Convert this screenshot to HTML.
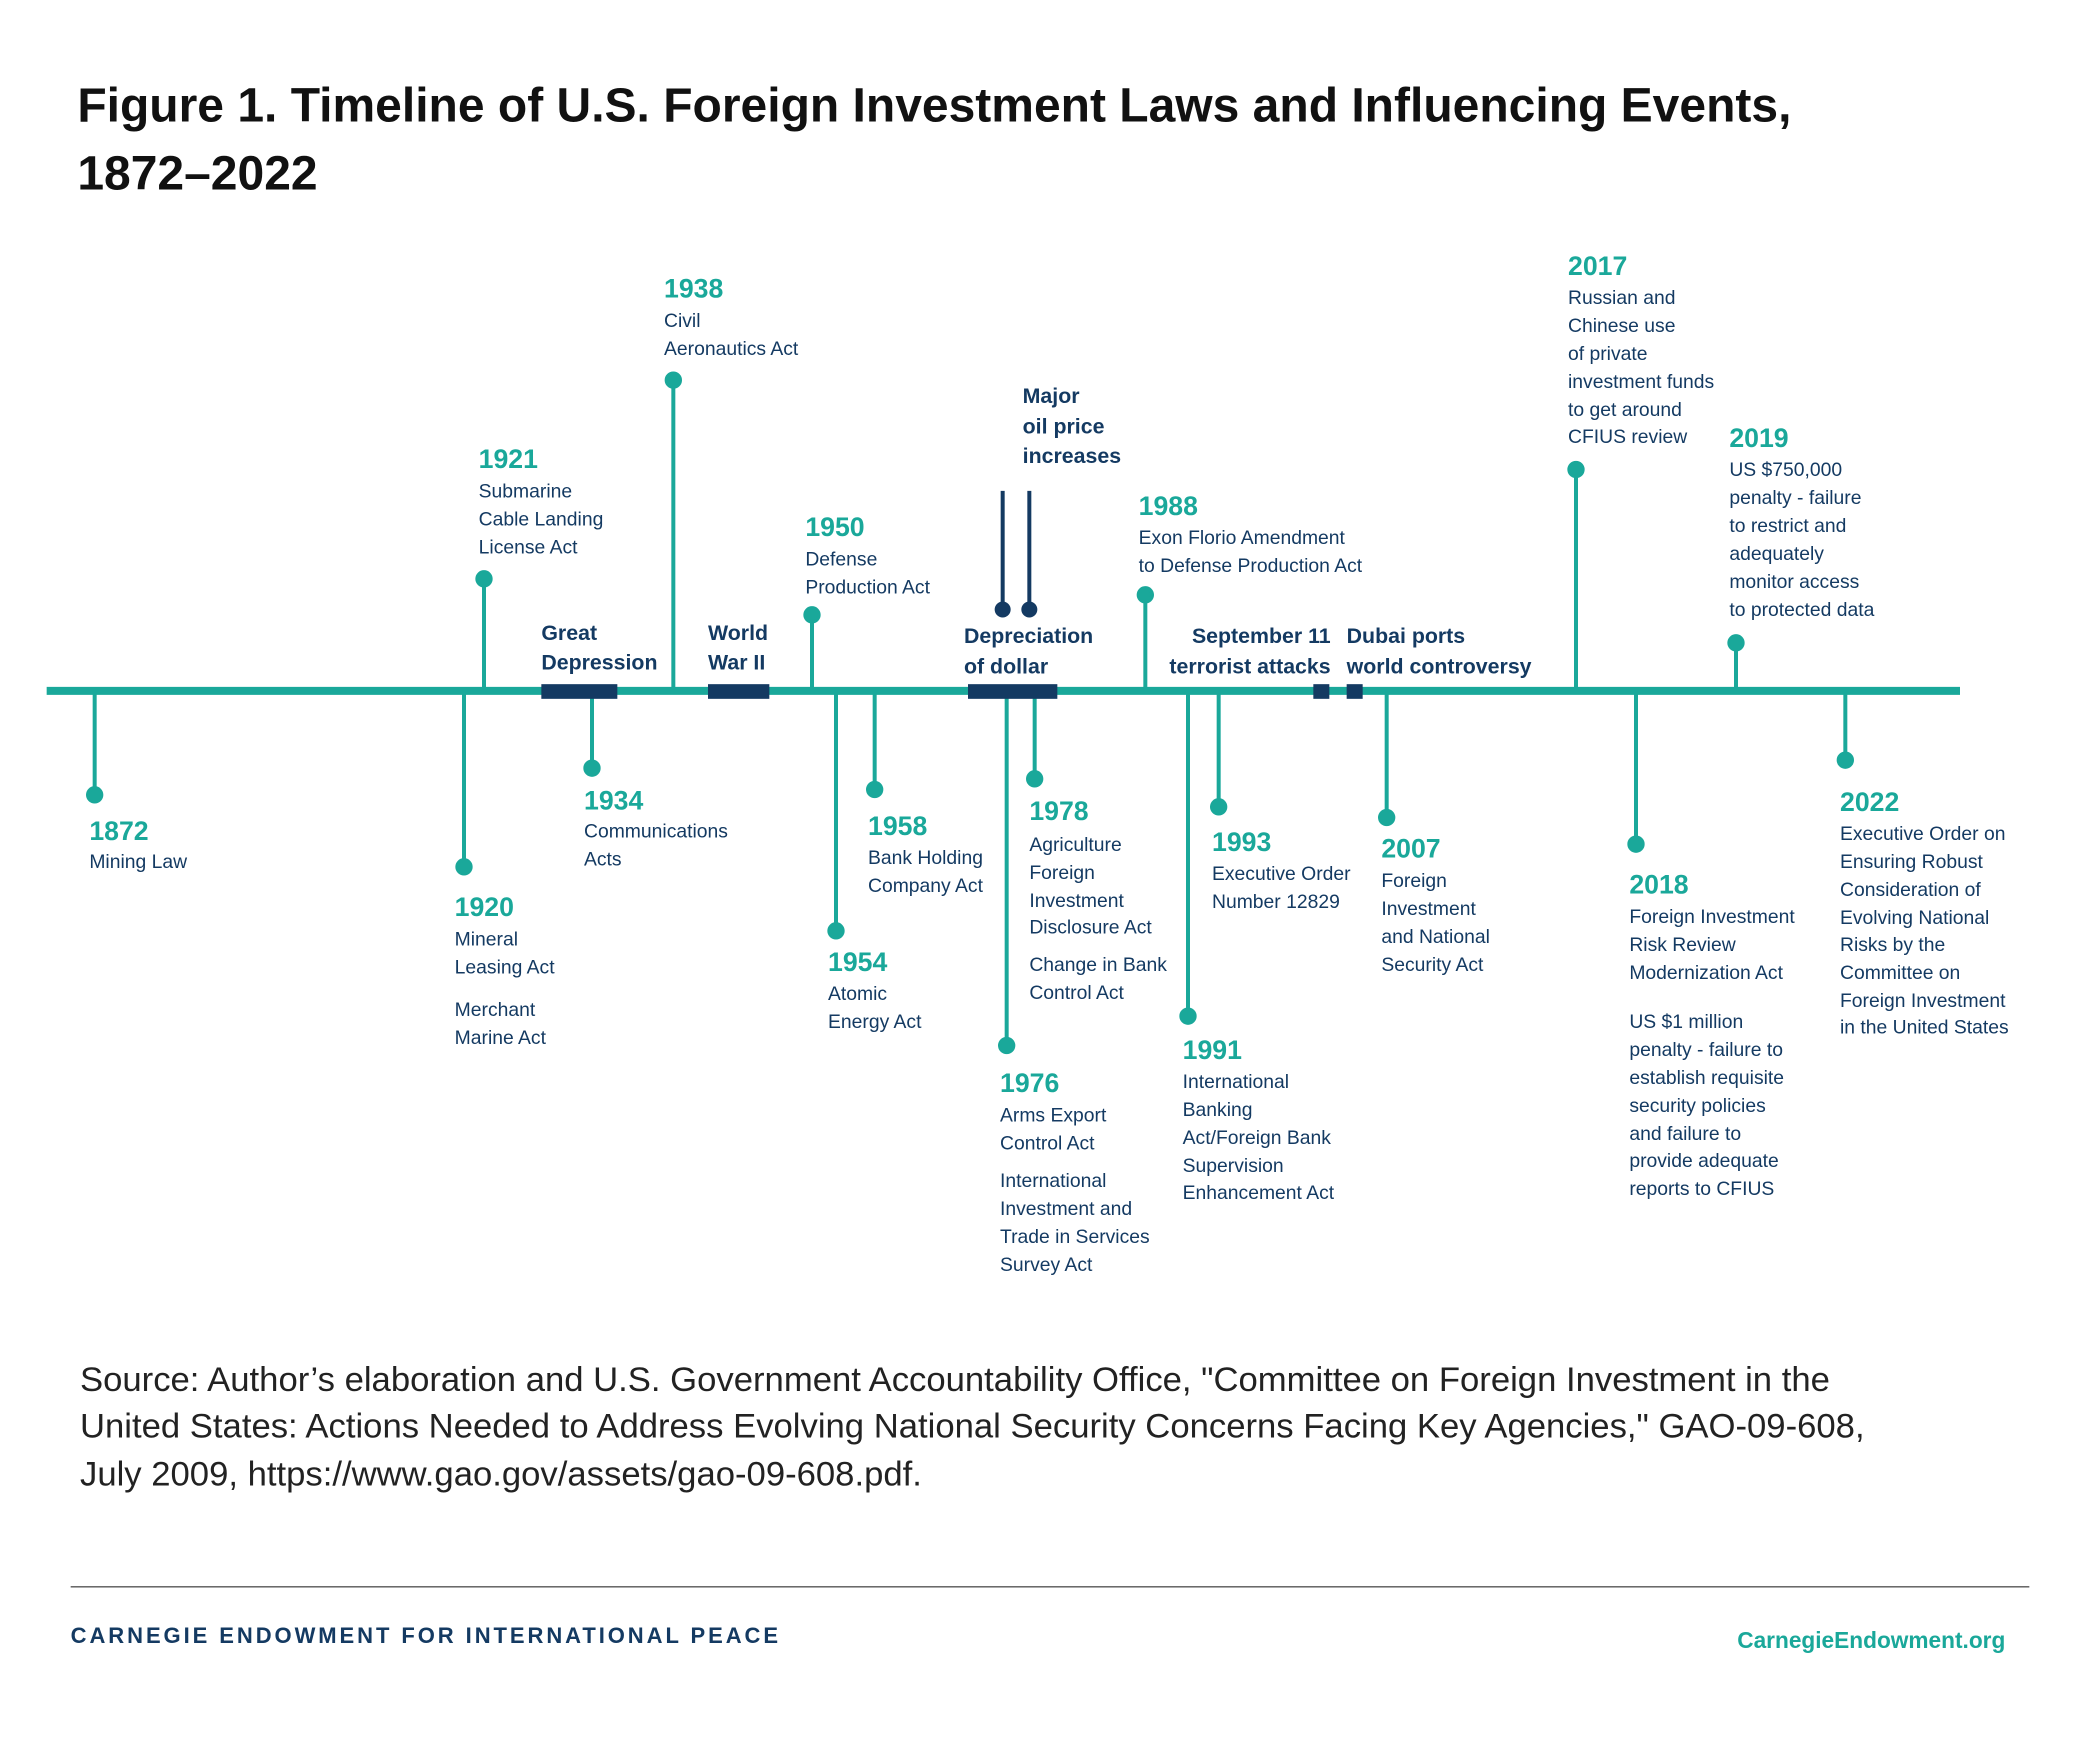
<!DOCTYPE html>
<html><head><meta charset="utf-8"><style>
html,body{margin:0;padding:0;background:#fff;}
svg{display:block;}
text{font-family:"Liberation Sans",sans-serif;}
.y{fill:#1aa89a;font-weight:bold;font-size:20px;}
.b{fill:#143a62;font-size:14.5px;}
.n{fill:#143a62;font-weight:bold;font-size:16px;}
</style></head><body>
<svg width="2084" height="1739" viewBox="0 0 1563 1304" xmlns="http://www.w3.org/2000/svg">
<text x="58" y="91" style="font-size:36px;font-weight:bold;fill:#111">Figure 1. Timeline of U.S. Foreign Investment Laws and Influencing Events,</text>
<text x="58" y="142" style="font-size:36px;font-weight:bold;fill:#111">1872–2022</text>

<g stroke="#1aa89a" stroke-width="3" fill="#1aa89a">
<line x1="363" y1="518" x2="363" y2="434"/><circle cx="363" cy="434" r="5"/>
<line x1="505" y1="518" x2="505" y2="285"/><circle cx="505" cy="285" r="5"/>
<line x1="609" y1="518" x2="609" y2="461"/><circle cx="609" cy="461" r="5"/>
<line x1="859" y1="518" x2="859" y2="446"/><circle cx="859" cy="446" r="5"/>
<line x1="1182" y1="518" x2="1182" y2="352"/><circle cx="1182" cy="352" r="5"/>
<line x1="1302" y1="518" x2="1302" y2="482"/><circle cx="1302" cy="482" r="5"/>
<line x1="71" y1="518" x2="71" y2="596"/><circle cx="71" cy="596" r="5"/>
<line x1="348" y1="518" x2="348" y2="650"/><circle cx="348" cy="650" r="5"/>
<line x1="444" y1="518" x2="444" y2="576"/><circle cx="444" cy="576" r="5"/>
<line x1="627" y1="518" x2="627" y2="698"/><circle cx="627" cy="698" r="5"/>
<line x1="656" y1="518" x2="656" y2="592"/><circle cx="656" cy="592" r="5"/>
<line x1="755" y1="518" x2="755" y2="784"/><circle cx="755" cy="784" r="5"/>
<line x1="776" y1="518" x2="776" y2="584"/><circle cx="776" cy="584" r="5"/>
<line x1="891" y1="518" x2="891" y2="762"/><circle cx="891" cy="762" r="5"/>
<line x1="914" y1="518" x2="914" y2="605"/><circle cx="914" cy="605" r="5"/>
<line x1="1040" y1="518" x2="1040" y2="613"/><circle cx="1040" cy="613" r="5"/>
<line x1="1227" y1="518" x2="1227" y2="633"/><circle cx="1227" cy="633" r="5"/>
<line x1="1384" y1="518" x2="1384" y2="570"/><circle cx="1384" cy="570" r="5"/>
</g>
<line x1="35" y1="518" x2="1470" y2="518" stroke="#1aa89a" stroke-width="6"/>
<g fill="#143a62">
<rect x="406" y="513" width="57" height="11"/>
<rect x="531" y="513" width="46" height="11"/>
<rect x="726" y="513" width="67" height="11"/>
<rect x="985" y="513" width="12" height="11"/>
<rect x="1010" y="513" width="12" height="11"/>
</g>
<g stroke="#143a62" stroke-width="3" fill="#143a62">
<line x1="752" y1="368" x2="752" y2="457"/><circle cx="752" cy="457" r="4.5"/>
<line x1="772" y1="368" x2="772" y2="457"/><circle cx="772" cy="457" r="4.5"/>
</g>

<text class="n" x="406" y="480">Great</text><text class="n" x="406" y="502">Depression</text>
<text class="n" x="531" y="480">World</text><text class="n" x="531" y="502">War II</text>
<text class="n" x="723" y="482">Depreciation</text><text class="n" x="723" y="505">of dollar</text>
<text class="n" x="767" y="302">Major</text><text class="n" x="767" y="325">oil price</text><text class="n" x="767" y="347">increases</text>
<text class="n" x="998" y="482" text-anchor="end">September 11</text><text class="n" x="998" y="505" text-anchor="end">terrorist attacks</text>
<text class="n" x="1010" y="482">Dubai ports</text><text class="n" x="1010" y="505">world controversy</text>

<text class="y" x="67" y="630">1872</text><text class="b" x="67" y="651">Mining Law</text>
<text class="y" x="341" y="687">1920</text><text class="b" x="341" y="709">Mineral</text><text class="b" x="341" y="730">Leasing Act</text><text class="b" x="341" y="762">Merchant</text><text class="b" x="341" y="783">Marine Act</text>
<text class="y" x="359" y="351">1921</text><text class="b" x="359" y="373">Submarine</text><text class="b" x="359" y="394">Cable Landing</text><text class="b" x="359" y="415">License Act</text>
<text class="y" x="438" y="607">1934</text><text class="b" x="438" y="628">Communications</text><text class="b" x="438" y="649">Acts</text>
<text class="y" x="498" y="223">1938</text><text class="b" x="498" y="245">Civil</text><text class="b" x="498" y="266">Aeronautics Act</text>
<text class="y" x="604" y="402">1950</text><text class="b" x="604" y="424">Defense</text><text class="b" x="604" y="445">Production Act</text>
<text class="y" x="621" y="728">1954</text><text class="b" x="621" y="750">Atomic</text><text class="b" x="621" y="771">Energy Act</text>
<text class="y" x="651" y="626">1958</text><text class="b" x="651" y="648">Bank Holding</text><text class="b" x="651" y="669">Company Act</text>
<text class="y" x="750" y="819">1976</text><text class="b" x="750" y="841">Arms Export</text><text class="b" x="750" y="862">Control Act</text><text class="b" x="750" y="890">International</text><text class="b" x="750" y="911">Investment and</text><text class="b" x="750" y="932">Trade in Services</text><text class="b" x="750" y="953">Survey Act</text>
<text class="y" x="772" y="615">1978</text><text class="b" x="772" y="638">Agriculture</text><text class="b" x="772" y="659">Foreign</text><text class="b" x="772" y="680">Investment</text><text class="b" x="772" y="700">Disclosure Act</text><text class="b" x="772" y="728">Change in Bank</text><text class="b" x="772" y="749">Control Act</text>
<text class="y" x="854" y="386">1988</text><text class="b" x="854" y="408">Exon Florio Amendment</text><text class="b" x="854" y="429">to Defense Production Act</text>
<text class="y" x="887" y="794">1991</text><text class="b" x="887" y="816">International</text><text class="b" x="887" y="837">Banking</text><text class="b" x="887" y="858">Act/Foreign Bank</text><text class="b" x="887" y="879">Supervision</text><text class="b" x="887" y="899">Enhancement Act</text>
<text class="y" x="909" y="638">1993</text><text class="b" x="909" y="660">Executive Order</text><text class="b" x="909" y="681">Number 12829</text>
<text class="y" x="1036" y="643">2007</text><text class="b" x="1036" y="665">Foreign</text><text class="b" x="1036" y="686">Investment</text><text class="b" x="1036" y="707">and National</text><text class="b" x="1036" y="728">Security Act</text>
<text class="y" x="1176" y="206">2017</text><text class="b" x="1176" y="228">Russian and</text><text class="b" x="1176" y="249">Chinese use</text><text class="b" x="1176" y="270">of private</text><text class="b" x="1176" y="291">investment funds</text><text class="b" x="1176" y="312">to get around</text><text class="b" x="1176" y="332">CFIUS review</text>
<text class="y" x="1222" y="670">2018</text><text class="b" x="1222" y="692">Foreign Investment</text><text class="b" x="1222" y="713">Risk Review</text><text class="b" x="1222" y="734">Modernization Act</text><text class="b" x="1222" y="771">US $1 million</text><text class="b" x="1222" y="792">penalty - failure to</text><text class="b" x="1222" y="813">establish requisite</text><text class="b" x="1222" y="834">security policies</text><text class="b" x="1222" y="855">and failure to</text><text class="b" x="1222" y="875">provide adequate</text><text class="b" x="1222" y="896">reports to CFIUS</text>
<text class="y" x="1297" y="335">2019</text><text class="b" x="1297" y="357">US $750,000</text><text class="b" x="1297" y="378">penalty - failure</text><text class="b" x="1297" y="399">to restrict and</text><text class="b" x="1297" y="420">adequately</text><text class="b" x="1297" y="441">monitor access</text><text class="b" x="1297" y="462">to protected data</text>
<text class="y" x="1380" y="608">2022</text><text class="b" x="1380" y="630">Executive Order on</text><text class="b" x="1380" y="651">Ensuring Robust</text><text class="b" x="1380" y="672">Consideration of</text><text class="b" x="1380" y="693">Evolving National</text><text class="b" x="1380" y="713">Risks by the</text><text class="b" x="1380" y="734">Committee on</text><text class="b" x="1380" y="755">Foreign Investment</text><text class="b" x="1380" y="775">in the United States</text>

<g style="font-size:26px;fill:#222">
<text x="60" y="1043">Source: Author’s elaboration and U.S. Government Accountability Office, "Committee on Foreign Investment in the</text>
<text x="60" y="1078">United States: Actions Needed to Address Evolving National Security Concerns Facing Key Agencies," GAO-09-608,</text>
<text x="60" y="1114">July 2009, https://www.gao.gov/assets/gao-09-608.pdf.</text>
</g>
<line x1="53" y1="1190" x2="1522" y2="1190" stroke="#555" stroke-width="1"/>
<text x="53" y="1232" style="font-size:16.5px;font-weight:bold;fill:#143a62;letter-spacing:2.2px">CARNEGIE ENDOWMENT FOR INTERNATIONAL PEACE</text>
<text x="1504" y="1236" text-anchor="end" style="font-size:17px;font-weight:bold;fill:#1aa89a">CarnegieEndowment.org</text>
</svg>
</body></html>
